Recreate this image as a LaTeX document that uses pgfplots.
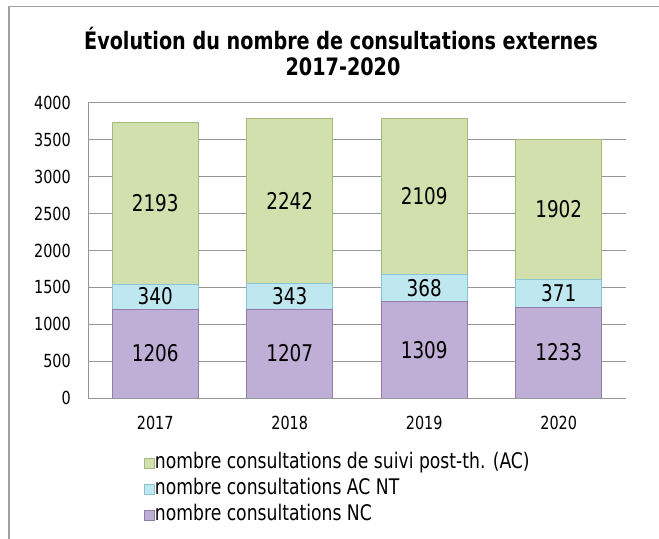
\documentclass[border=0pt]{standalone}
\usepackage{fontspec}
\setmainfont{DejaVu Sans}[FakeStretch=0.8]
\usepackage{pgfplots}
\usepackage{pgfplotstable}
\pgfplotsset{compat=1.18}
\definecolor{cgreen}{RGB}{210,224,173}
\definecolor{cgreenD}{RGB}{165,185,125}
\definecolor{cblue}{RGB}{191,231,240}
\definecolor{cblueD}{RGB}{140,195,210}
\definecolor{cpurple}{RGB}{191,174,213}
\definecolor{cpurpleD}{RGB}{145,125,172}
\definecolor{cgrid}{RGB}{150,150,150}
\definecolor{cframe}{RGB}{160,160,160}
\pgfplotstableread{
x NC ACNT PT
0 1206 340 2193
1 1207 343 2242
2 1309 368 2109
3 1233 371 1902
}\data
\begin{document}
\begin{tikzpicture}
\useasboundingbox (0,0) rectangle (659bp,539bp);
\draw[cframe, line width=1.5bp] (9bp,0) -- (9bp,532.5bp) -- (659bp,532.5bp);
\node[anchor=base, font=\fontsize{24bp}{27bp}\selectfont\bfseries, inner sep=0pt] at (341bp,489bp) {Évolution du nombre de consultations externes};
\node[anchor=base, font=\fontsize{24bp}{27bp}\selectfont\bfseries, inner sep=0pt] at (343bp,463bp) {2017-2020};
\begin{axis}[
  at={(88bp,141bp)}, anchor=south west,
  scale only axis, width=538bp, height=295bp,
  ybar stacked, bar width=0.64,
  xmin=-0.5, xmax=3.5, ymin=0, ymax=4000,
  ytick={0,500,...,4000},
  xtick={0,1,2,3}, xticklabels={2017,2018,2019,2020},
  axis x line*=bottom, axis y line*=left,
  axis line style={cgrid, line width=1bp},
  ymajorgrids, major grid style={cgrid, line width=1bp},
  major tick length=0pt,
  /pgf/number format/assume math mode=true,
  /pgf/number format/1000 sep={},
  yticklabel style={font=\fontsize{18bp}{20bp}\selectfont, inner sep=0pt, anchor=east, xshift=-17bp},
  xticklabel style={font=\fontsize{18bp}{20bp}\selectfont, inner sep=0pt, anchor=north, yshift=-18bp},
  reverse legend,
  legend cell align=left,
  legend style={at={(0.104,-0.185)}, anchor=north west, draw=none, fill=none,
    font=\fontsize{21.5bp}{24bp}\selectfont, row sep=5bp, inner sep=0pt,
    nodes={inner sep=0pt, text height=16bp, text depth=5bp},
    /tikz/every even column/.append style={column sep=4bp}},
  legend image code/.code={\draw[#1, line width=0.8bp] (0bp,-5bp) rectangle (10bp,5bp);},
]
\addplot[fill=cpurple, draw=cpurpleD, line width=0.8bp] table[x=x, y=NC] {\data};
\addplot[fill=cblue, draw=cblueD, line width=0.8bp] table[x=x, y=ACNT] {\data};
\addplot[fill=cgreen, draw=cgreenD, line width=0.8bp] table[x=x, y=PT] {\data};
\legend{nombre consultations NC, nombre consultations AC NT, nombre consultations de suivi post-th. (AC)}
\end{axis}
\begin{axis}[
  at={(88bp,141bp)}, anchor=south west,
  scale only axis, width=538bp, height=295bp,
  xmin=-0.5, xmax=3.5, ymin=0, ymax=4000,
  hide axis,
  /pgf/number format/assume math mode=true,
  /pgf/number format/1000 sep={},
  every node near coord/.style={anchor=center, font=\fontsize{23bp}{26bp}\selectfont, inner sep=0pt, text=black},
]
\addplot[draw=none, mark=none, nodes near coords, point meta=explicit] table[x=x, y expr=\thisrow{NC}/2, meta=NC] {\data};
\addplot[draw=none, mark=none, nodes near coords, point meta=explicit] table[x=x, y expr=\thisrow{NC}+\thisrow{ACNT}/2, meta=ACNT] {\data};
\addplot[draw=none, mark=none, nodes near coords, point meta=explicit] table[x=x, y expr=\thisrow{NC}+\thisrow{ACNT}+\thisrow{PT}/2, meta=PT] {\data};
\end{axis}
\end{tikzpicture}
\end{document}
